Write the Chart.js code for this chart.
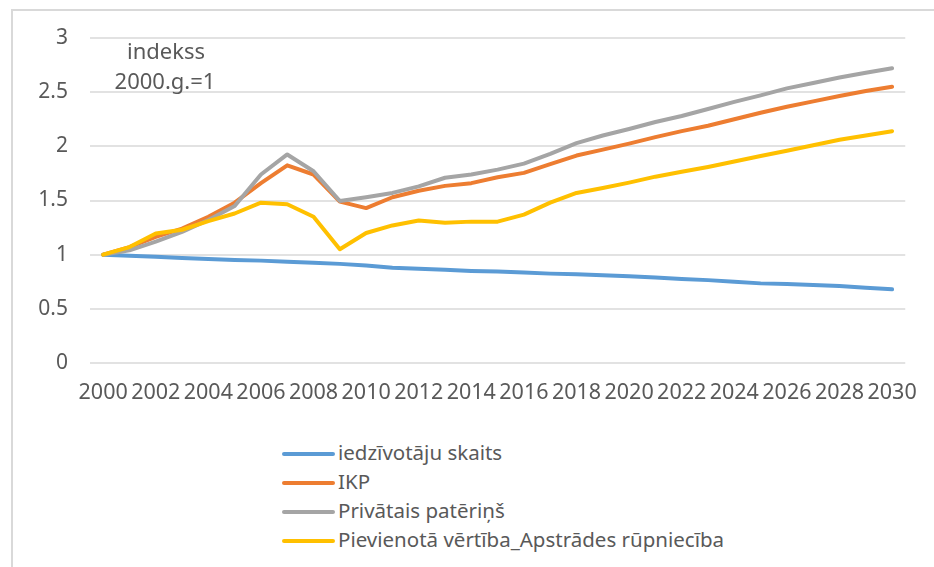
<!DOCTYPE html>
<html>
<head>
<meta charset="utf-8">
<script src="https://cdn.jsdelivr.net/npm/chart.js@4"></script>
<style>
  body { margin: 0; background: #fff; }
  #wrap { position: relative; width: 934px; height: 567px; overflow: hidden; }
  #frame { position: absolute; left: 11px; top: 9px; width: 940px; height: 600px;
           border-left: 2px solid #d9d9d9; border-top: 2px solid #d9d9d9; }
  #cv { position: absolute; left: 0; top: 0; }
  #legend { position: absolute; left: 282px; top: 438px; font-family: "Noto Sans", sans-serif;
            font-size: 20.5px; color: #595959; }
  #legend div { height: 29px; line-height: 29px; white-space: nowrap; }
  #legend span { display: inline-block; width: 53px; height: 4px; border-radius: 2px;
                 vertical-align: middle; margin-right: 3px; position: relative; top: -1px; }
</style>
</head>
<body>
<div id="wrap">
  <div id="frame"></div>
  <canvas id="cv" width="934" height="420"></canvas>
  <div id="legend"></div>
</div>
<script>
const years = ['2000','2001','2002','2003','2004','2005','2006','2007','2008','2009','2010',
  '2011','2012','2013','2014','2015','2016','2017','2018','2019','2020',
  '2021','2022','2023','2024','2025','2026','2027','2028','2029','2030']

const iedzivotaji = [1.0, 0.99, 0.98, 0.97, 0.96, 0.95, 0.945, 0.935, 0.925, 0.915, 0.9,
  0.88, 0.87, 0.86, 0.85, 0.845, 0.835, 0.825, 0.82, 0.81, 0.8,
  0.79, 0.775, 0.765, 0.75, 0.735, 0.73, 0.72, 0.71, 0.695, 0.68]

const ikp = [1.0, 1.07, 1.165, 1.24, 1.35, 1.48, 1.66, 1.825, 1.74, 1.49, 1.43,
  1.53, 1.59, 1.635, 1.66, 1.715, 1.755, 1.835, 1.915, 1.97, 2.025,
  2.085, 2.14, 2.19, 2.25, 2.31, 2.365, 2.415, 2.465, 2.51, 2.55]

const paterins = [1.0, 1.04, 1.12, 1.21, 1.32, 1.45, 1.74, 1.925, 1.77, 1.495, 1.53,
  1.57, 1.63, 1.71, 1.74, 1.785, 1.84, 1.93, 2.03, 2.1, 2.16,
  2.225, 2.28, 2.345, 2.41, 2.47, 2.535, 2.585, 2.635, 2.68, 2.72]

const apstrade = [1.0, 1.07, 1.195, 1.23, 1.31, 1.38, 1.48, 1.465, 1.35, 1.05, 1.2,
  1.27, 1.315, 1.295, 1.305, 1.305, 1.37, 1.48, 1.57, 1.615, 1.665,
  1.72, 1.765, 1.81, 1.86, 1.91, 1.96, 2.01, 2.06, 2.1, 2.14]

const yTicks = [0, 0.5, 1, 1.5, 2, 2.5, 3]

const txt = '#595959'
const font = '"Noto Sans", sans-serif'

// teksts diagrammas kreisajā augšējā stūrī
const noteLines = ['indekss', '2000.g.=1']
const notePlugin = {
    id: 'note',
    afterDraw(chart) {
        const ctx = chart.ctx
        ctx.save()
        ctx.fillStyle = txt
        ctx.font = '22px ' + font
        ctx.textAlign = 'center'
        ctx.textBaseline = 'middle'
        ctx.fillText(noteLines[0], 166, 53)
        ctx.fillText(noteLines[1], 165, 83)
        ctx.restore()
    }
}

// leģenda zem diagrammas, kolonnā
const legendPlugin = {
    id: 'htmlLegend',
    afterUpdate(chart) {
        const box = document.getElementById('legend')
        box.innerHTML = ''
        chart.data.datasets.forEach((ds) => {
            const row = document.createElement('div')
            const line = document.createElement('span')
            line.style.background = ds.borderColor
            row.appendChild(line)
            row.appendChild(document.createTextNode(ds.label))
            box.appendChild(row)
        })
    }
}

const line = (label, data, color, order) => ({
    label: label,
    data: data,
    borderColor: color,
    backgroundColor: color,
    borderWidth: 4,
    pointRadius: 0,
    tension: 0,
    borderCapStyle: 'round',
    borderJoinStyle: 'round',
    order: order,
})

new Chart(document.getElementById('cv'), {
    type: 'line',
    data: {
        labels: years,
        datasets: [
            line('iedzīvotāju skaits', iedzivotaji, '#5B9BD5', 3),
            line('IKP', ikp, '#ED7D31', 2),
            line('Privātais patēriņš', paterins, '#A5A5A5', 1),
            line('Pievienotā vērtība_Apstrādes rūpniecība', apstrade, '#FFC000', 0),
        ]
    },
    options: {
        responsive: false,
        animation: false,
        layout: { padding: { left: 0, top: 38, right: 19, bottom: 0 } },
        plugins: {
            legend: { display: false },
            tooltip: { enabled: false },
        },
        scales: {
            x: {
                offset: true,
                grid: { display: false, drawTicks: false },
                border: { display: false },
                ticks: {
                    color: txt,
                    font: { family: font, size: 21.5 },
                    autoSkip: false,
                    maxRotation: 0,
                    minRotation: 0,
                    padding: 17,
                    callback: function (val, i) {
                        return i % 2 === 0 ? this.getLabelForValue(val) : ''
                    },
                },
                afterFit: (s) => { s.height = 57 },
            },
            y: {
                min: 0,
                max: 3,
                afterBuildTicks: (s) => { s.ticks = yTicks.map((v) => ({ value: v })) },
                grid: { color: '#e2e2e2', lineWidth: 2, drawTicks: false },
                border: { display: false },
                ticks: {
                    color: txt,
                    font: { family: font, size: 21 },
                    padding: 22,
                    callback: (v) => String(v),
                },
                afterFit: (s) => { s.width = 90 },
            },
        },
    },
    plugins: [notePlugin, legendPlugin],
})
</script>
</body>
</html>
